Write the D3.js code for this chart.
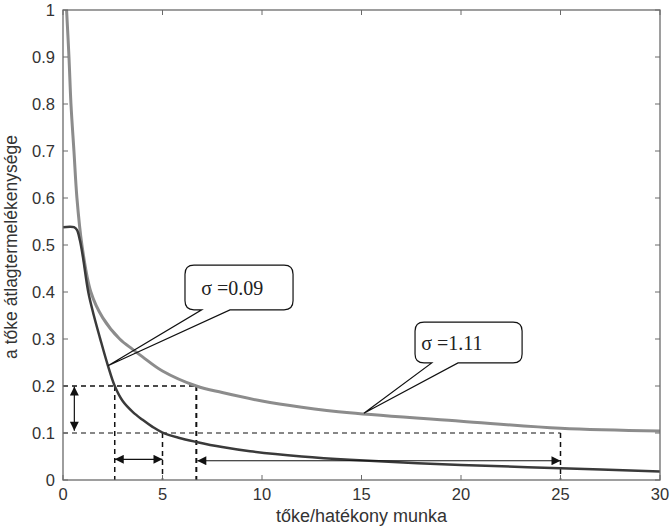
<!DOCTYPE html>
<html>
<head>
<meta charset="utf-8">
<script src="https://cdn.jsdelivr.net/npm/d3@7"></script>
<style>
  body { margin: 0; background: #fff; }
  text { font-family: "Liberation Sans", Arial, sans-serif; }
  .tick-label { font-size: 16.5px; fill: #333; }
  .callout text { font-family: "Liberation Serif", "Times New Roman", serif; font-size: 20px; fill: #222; }
</style>
</head>
<body>
<div id="chart"></div>
<script>
// sigma = 1.11 (light grey curve)
var grayX = [0.18, 0.3, 0.4, 0.55, 0.7, 0.95, 1.4, 2.0, 2.85, 3.5, 4, 5, 6.7, 8, 10, 12, 14.4, 20, 25, 30];
var grayY = [1.0, 0.9, 0.8, 0.7, 0.6, 0.5, 0.4, 0.345, 0.3, 0.278, 0.262, 0.232, 0.2, 0.186, 0.168, 0.155, 0.143, 0.125, 0.11, 0.104];
// sigma = 0.09 (dark curve)
var darkX = [0, 0.55, 0.7, 0.85, 1.0, 1.27, 1.55, 1.86, 2.26, 2.6, 3, 3.5, 4, 4.5, 5, 5.8, 6.7, 8, 9.4, 12, 14.4, 20, 25, 30];
var darkY = [0.538, 0.538, 0.532, 0.51, 0.475, 0.4, 0.35, 0.302, 0.243, 0.2, 0.168, 0.145, 0.128, 0.113, 0.101, 0.09, 0.081, 0.07, 0.061, 0.05, 0.043, 0.032, 0.025, 0.018];

var xTicks = [0, 5, 10, 15, 20, 25, 30];
var yTicks = [0, 0.1, 0.2, 0.3, 0.4, 0.5, 0.6, 0.7, 0.8, 0.9, 1];
var yTickLabels = ["0", "0.1", "0.2", "0.3", "0.4", "0.5", "0.6", "0.7", "0.8", "0.9", "1"];

var width = 670, height = 529,
    margin = {top: 10, right: 10, bottom: 49, left: 63},
    w = width - margin.left - margin.right,
    h = height - margin.top - margin.bottom;

var svg = d3.select("#chart").append("svg")
  .attr("width", width)
  .attr("height", height);

var x = d3.scaleLinear().domain([0, 30]).range([0, w]);
var y = d3.scaleLinear().domain([0, 1]).range([h, 0]);

var g = svg.append("g")
  .attr("transform", "translate(" + margin.left + "," + margin.top + ")");

var defs = svg.append("defs");
defs.append("clipPath").attr("id", "clip")
  .append("rect").attr("width", w).attr("height", h);

// arrowhead marker
defs.append("marker")
  .attr("id", "arr")
  .attr("viewBox", "0 0 10 10")
  .attr("refX", 10).attr("refY", 5)
  .attr("markerWidth", 11).attr("markerHeight", 9)
  .attr("markerUnits", "userSpaceOnUse")
  .attr("orient", "auto-start-reverse")
  .append("path").attr("d", "M0,0L10,5L0,10Z").attr("fill", "#111");

// dashed guide lines
var guides = [
  {x1: 0, y1: 0.2, x2: 6.7, y2: 0.2, wd: 1.5},
  {x1: 0, y1: 0.1, x2: 25, y2: 0.1, wd: 1.1},
  {x1: 2.6, y1: 0.2, x2: 2.6, y2: 0, wd: 1.5},
  {x1: 5, y1: 0.1, x2: 5, y2: 0, wd: 1.5},
  {x1: 6.7, y1: 0.2, x2: 6.7, y2: 0, wd: 2},
  {x1: 25, y1: 0.1, x2: 25, y2: 0, wd: 1.5}
];
g.selectAll("line.guide")
  .data(guides)
  .enter().append("line")
  .attr("class", "guide")
  .attr("x1", function(d){ return x(d.x1); })
  .attr("y1", function(d){ return y(d.y1); })
  .attr("x2", function(d){ return x(d.x2); })
  .attr("y2", function(d){ return y(d.y2); })
  .attr("stroke", "#111")
  .attr("stroke-width", function(d){ return d.wd; })
  .attr("stroke-dasharray", "5,4");

// curves
var line = d3.line()
  .x(function(d){ return x(d[0]); })
  .y(function(d){ return y(d[1]); })
  .curve(d3.curveCatmullRom.alpha(0.5));

var curves = g.append("g").attr("clip-path", "url(#clip)");
curves.append("path")
  .datum(d3.zip(grayX, grayY))
  .attr("d", line)
  .attr("fill", "none")
  .attr("stroke", "#8c8c8c")
  .attr("stroke-width", 3);
curves.append("path")
  .datum(d3.zip(darkX, darkY))
  .attr("d", line)
  .attr("fill", "none")
  .attr("stroke", "#3a3a3a")
  .attr("stroke-width", 2.5);

// double arrows
var arrows = [
  {x1: 0.57, y1: 0.199, x2: 0.57, y2: 0.105},
  {x1: 2.6, y1: 0.044, x2: 5, y2: 0.044},
  {x1: 6.75, y1: 0.041, x2: 25, y2: 0.041}
];
g.selectAll("line.arrow")
  .data(arrows)
  .enter().append("line")
  .attr("class", "arrow")
  .attr("x1", function(d){ return x(d.x1); })
  .attr("y1", function(d){ return y(d.y1); })
  .attr("x2", function(d){ return x(d.x2); })
  .attr("y2", function(d){ return y(d.y2); })
  .attr("stroke", "#111")
  .attr("stroke-width", 1.2)
  .attr("marker-start", "url(#arr)")
  .attr("marker-end", "url(#arr)");

// callouts
var callouts = [
  {label: "\u03c3 =0.09", x0: 6.13, x1: 11.56, yT: 0.457, yB: 0.362, tA: 6.97, tB: 8.39, px: 2.26, py: 0.243, tx: 6.95},
  {label: "\u03c3 =1.11", x0: 17.69, x1: 23.07, yT: 0.336, yB: 0.249, tA: 18.53, tB: 19.85, px: 15.12, py: 0.142, tx: 18.0}
];
var r = 9;
var co = g.selectAll("g.callout")
  .data(callouts)
  .enter().append("g")
  .attr("class", "callout");
co.append("path")
  .attr("d", function(d){
    var L = x(d.x0), R = x(d.x1), T = y(d.yT), B = y(d.yB);
    var p = d3.path();
    p.moveTo(L + r, T);
    p.lineTo(R - r, T);
    p.quadraticCurveTo(R, T, R, T + r);
    p.lineTo(R, B - r);
    p.quadraticCurveTo(R, B, R - r, B);
    p.lineTo(x(d.tB), B);
    p.lineTo(x(d.px), y(d.py));
    p.lineTo(x(d.tA), B);
    p.lineTo(L + r, B);
    p.quadraticCurveTo(L, B, L, B - r);
    p.lineTo(L, T + r);
    p.quadraticCurveTo(L, T, L + r, T);
    p.closePath();
    return p.toString();
  })
  .attr("fill", "none")
  .attr("stroke", "#111")
  .attr("stroke-width", 1.2);
co.append("text")
  .attr("x", function(d){ return x(d.tx); })
  .attr("y", function(d){ return (y(d.yT) + y(d.yB)) / 2 + 7; })
  .text(function(d){ return d.label; });

// box and inside ticks (matlab style)
g.append("rect")
  .attr("width", w).attr("height", h)
  .attr("fill", "none")
  .attr("stroke", "#6a6a6a")
  .attr("stroke-width", 1.3);

var tl = 5;
xTicks.forEach(function(t){
  g.append("line").attr("x1", x(t)).attr("x2", x(t)).attr("y1", h).attr("y2", h - tl)
    .attr("stroke", "#6a6a6a");
  g.append("line").attr("x1", x(t)).attr("x2", x(t)).attr("y1", 0).attr("y2", tl)
    .attr("stroke", "#6a6a6a");
});
yTicks.forEach(function(t){
  g.append("line").attr("x1", 0).attr("x2", tl).attr("y1", y(t)).attr("y2", y(t))
    .attr("stroke", "#6a6a6a");
  g.append("line").attr("x1", w).attr("x2", w - tl).attr("y1", y(t)).attr("y2", y(t))
    .attr("stroke", "#6a6a6a");
});

g.selectAll("text.xt")
  .data(xTicks)
  .enter().append("text")
  .attr("class", "tick-label")
  .attr("x", function(d){ return x(d); })
  .attr("y", h + 20)
  .attr("text-anchor", "middle")
  .text(function(d){ return d; });

g.selectAll("text.yt")
  .data(yTicks)
  .enter().append("text")
  .attr("class", "tick-label")
  .attr("x", -8)
  .attr("y", function(d){ return y(d) + 6; })
  .attr("text-anchor", "end")
  .text(function(d, i){ return yTickLabels[i]; });

// axis titles
svg.append("text")
  .attr("x", margin.left + w / 2)
  .attr("y", 522)
  .attr("text-anchor", "middle")
  .attr("font-size", "18px")
  .attr("fill", "#333")
  .text("tőke/hatékony munka");

svg.append("text")
  .attr("transform", "translate(17,247) rotate(-90)")
  .attr("text-anchor", "middle")
  .attr("font-size", "17.5px")
  .attr("fill", "#333")
  .text("a tőke átlagtermelékenysége");
</script>
</body>
</html>
